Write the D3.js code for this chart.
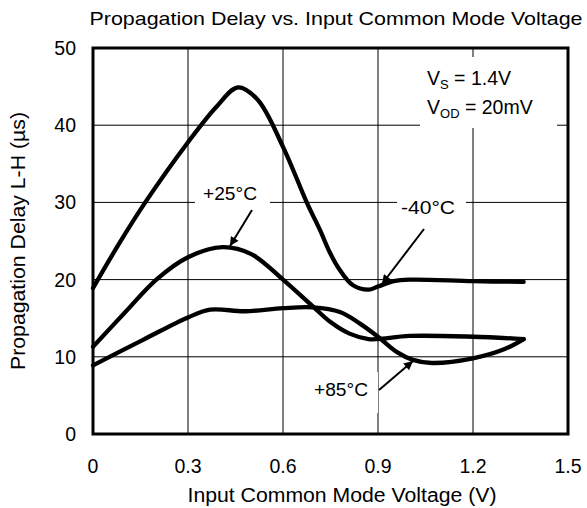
<!DOCTYPE html>
<html><head><meta charset="utf-8">
<script src="https://cdn.jsdelivr.net/npm/d3@7"></script>
<style>body{margin:0;background:#fff}svg{display:block}text{font-family:"Liberation Sans",Arial,sans-serif;fill:#000}</style>
</head><body>
<svg id="c" width="587" height="508"></svg>
<script>
const xTicks = [0, 0.3, 0.6, 0.9, 1.2, 1.5];
const yTicks = [0, 10, 20, 30, 40, 50];
const xTickLabels = ["0", "0.3", "0.6", "0.9", "1.2", "1.5"];
const yTickLabels = ["0", "10", "20", "30", "40", "50"];

const seriesNames = ["-40°C", "+25°C", "+85°C"];
const vM40 = [[0,18.9],[0.08,24.5],[0.165,30],[0.3,37.8],[0.39,42.4],[0.458,44.9],[0.52,43.3],[0.6,37.2],[0.676,29.9],[0.717,26.4],[0.748,23.5],[0.78,21.2],[0.82,19.3],[0.87,18.7],[0.9,19.1],[0.95,19.8],[1.0,20.0],[1.2,19.8],[1.36,19.7]];
const v25 = [[0,11.3],[0.1,15.7],[0.2,20],[0.3,22.9],[0.41,24.2],[0.5,23.3],[0.6,20.0],[0.695,16.5],[0.75,14.5],[0.81,13.0],[0.87,12.3],[0.9,12.3],[1.0,12.7],[1.2,12.6],[1.36,12.3]];
const v85 = [[0,8.9],[0.158,12.2],[0.3,15.1],[0.37,16.1],[0.48,15.9],[0.6,16.3],[0.695,16.4],[0.78,15.8],[0.843,14.3],[0.9,12.6],[0.96,10.6],[1.01,9.6],[1.07,9.2],[1.2,9.8],[1.3,11.0],[1.36,12.3]];

const svg = d3.select("#c");
const L = 93, R = 568, T = 48, B = 434;
const x = d3.scaleLinear().domain([0, 1.5]).range([L, R]);
const y = d3.scaleLinear().domain([0, 50]).range([B, T]);

// title
svg.append("text").attr("x", 336).attr("y", 25).attr("text-anchor", "middle")
  .attr("textLength", 493).attr("lengthAdjust", "spacingAndGlyphs")
  .style("font-size", "19px").text("Propagation Delay vs. Input Common Mode Voltage");

// grid
const g = svg.append("g");
g.selectAll(".vx").data(xTicks.slice(1, -1)).join("line")
  .attr("x1", d => x(d)).attr("x2", d => x(d)).attr("y1", T).attr("y2", B)
  .attr("stroke", "#000").attr("stroke-width", 1);
g.selectAll(".hy").data(yTicks.slice(1, -1)).join("line")
  .attr("x1", L).attr("x2", R).attr("y1", d => y(d)).attr("y2", d => y(d))
  .attr("stroke", "#000").attr("stroke-width", 1);

// white boxes behind labels
const boxes = [[195, 185, 75, 30], [397, 193, 69, 30], [310, 372, 68, 41], [420, 57, 137, 71]];
svg.selectAll(".wb").data(boxes).join("rect")
  .attr("x", d => d[0]).attr("y", d => d[1]).attr("width", d => d[2]).attr("height", d => d[3])
  .attr("fill", "#fff");

// axes tick labels
svg.selectAll(".xl").data(xTicks).join("text")
  .attr("x", d => x(d)).attr("y", 473).attr("text-anchor", "middle")
  .style("font-size", "19.5px").text((d, i) => xTickLabels[i]);
svg.selectAll(".yl").data(yTicks).join("text")
  .attr("x", 76).attr("y", d => y(d) + 7).attr("text-anchor", "end")
  .style("font-size", "19.5px").text((d, i) => yTickLabels[i]);

svg.append("text").attr("x", 342).attr("y", 502).attr("text-anchor", "middle")
  .attr("textLength", 309).attr("lengthAdjust", "spacingAndGlyphs")
  .style("font-size", "19.5px").text("Input Common Mode Voltage (V)");
svg.append("text").attr("transform", `translate(25,${(T + B) / 2}) rotate(-90)`)
  .attr("text-anchor", "middle").attr("textLength", 258).attr("lengthAdjust", "spacingAndGlyphs")
  .style("font-size", "19.5px").text("Propagation Delay L-H (µs)");

// curves
const line = d3.line().x(d => x(d[0])).y(d => y(d[1])).curve(d3.curveCatmullRom.alpha(0.5));
svg.selectAll(".curve").data([vM40, v25, v85]).join("path")
  .attr("d", line).attr("fill", "none").attr("stroke", "#000").attr("stroke-width", 4.3)
  .attr("stroke-linejoin", "round").attr("stroke-linecap", "round");

// frame
svg.append("rect").attr("x", L).attr("y", T).attr("width", R - L).attr("height", B - T)
  .attr("fill", "none").attr("stroke", "#000").attr("stroke-width", 3);

// arrows
svg.append("defs").append("marker").attr("id", "ah").attr("viewBox", "0 0 10 10")
  .attr("refX", 10).attr("refY", 5).attr("markerWidth", 12).attr("markerHeight", 9)
  .attr("markerUnits", "userSpaceOnUse").attr("orient", "auto")
  .append("path").attr("d", "M0,0L10,5L0,10Z").attr("fill", "#000");
const arrows = [[252, 210, 230, 246], [424, 229, 382, 284], [379, 390, 413, 361]];
svg.selectAll(".ar").data(arrows).join("line")
  .attr("x1", d => d[0]).attr("y1", d => d[1]).attr("x2", d => d[2]).attr("y2", d => d[3])
  .attr("stroke", "#000").attr("stroke-width", 2).attr("marker-end", "url(#ah)");

// series labels
const labelPos = [[428, 214], [230, 200], [341, 396]];
const labelOrder = [0, 1, 2];
svg.selectAll(".sl").data(labelOrder).join("text")
  .attr("x", d => labelPos[d][0]).attr("y", d => labelPos[d][1]).attr("text-anchor", "middle")
  .attr("textLength", 54).attr("lengthAdjust", "spacingAndGlyphs")
  .style("font-size", "17.5px").text(d => seriesNames[d]);

// condition box text
const t1 = svg.append("text").attr("x", 427).attr("y", 85).style("font-size", "19.5px");
t1.append("tspan").text("V");
t1.append("tspan").attr("dy", 4).style("font-size", "13px").text("S");
t1.append("tspan").attr("dy", -4).text(" = 1.4V");
const t2 = svg.append("text").attr("x", 427).attr("y", 114).style("font-size", "19.5px");
t2.append("tspan").text("V");
t2.append("tspan").attr("dy", 4).style("font-size", "13px").text("OD");
t2.append("tspan").attr("dy", -4).text(" = 20mV");
</script>
</body></html>
